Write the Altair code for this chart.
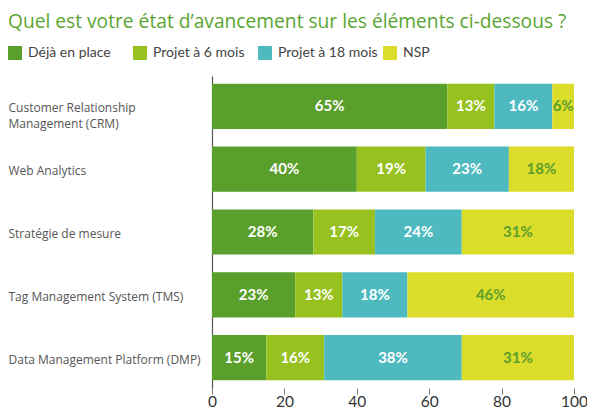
import altair as alt
import pandas as pd

items = [
    "Customer Relationship|Management (CRM)",
    "Web Analytics",
    "Stratégie de mesure",
    "Tag Management System (TMS)",
    "Data Management Platform (DMP)",
]
series = ["Déjà en place", "Projet à 6 mois", "Projet à 18 mois", "NSP"]
deja = [65, 40, 28, 23, 15]
six = [13, 19, 17, 13, 16]
dixhuit = [16, 23, 24, 18, 38]
nsp = [6, 18, 31, 46, 31]
colors = ["#5A9F2B", "#96C11F", "#4EBAC0", "#DCDC2B"]
x_ticks = [0, 20, 40, 60, 80, 100]

rows = []
for vals, s_i in zip([deja, six, dixhuit, nsp], range(4)):
    for it, v in zip(items, vals):
        rows.append({"item": it, "serie": series[s_i], "order": s_i, "value": v})
df = pd.DataFrame(rows)

font = "Lato"
LEFT = 204

base = alt.Chart(df).transform_stack(
    stack="value", groupby=["item"], as_=["x0", "x1"],
    sort=[alt.SortField("order", order="ascending")]
).transform_calculate(mid="(datum.x0 + datum.x1) / 2")

y_enc = alt.Y("item:N", sort=items, title=None,
              scale=alt.Scale(paddingInner=0.28, paddingOuter=0.125),
              axis=alt.Axis(labelExpr="split(datum.label, '|')", labelAlign="left",
                            labelPadding=LEFT, ticks=False, tickSize=0, labelLimit=300,
                            labelFont="Open Sans", labelFontSize=12, labelColor="#555555",
                            labelLineHeight=16, labelOffset=2,
                            domain=True, domainColor="#555555", domainWidth=1.2))

bars = base.mark_bar().encode(
    y=y_enc,
    x=alt.X("x0:Q", title=None, scale=alt.Scale(domain=[0, 100], nice=False),
            axis=alt.Axis(values=x_ticks, domain=False, grid=False, tickSize=6,
                          tickColor="#777777", labelFont=font, labelFontSize=15.5,
                          labelColor="#333333", labelPadding=0, labelFlush=False)),
    x2="x1:Q",
    color=alt.Color("serie:N", sort=series,
                    scale=alt.Scale(domain=series, range=colors),
                    legend=alt.Legend(title=None, orient="none", direction="horizontal",
                                      legendX=-LEFT, legendY=-30, symbolType="square",
                                      symbolSize=196, symbolStrokeWidth=0,
                                      labelFont=font, labelFontSize=14, labelColor="#444444",
                                      gridAlign="all", columnPadding=5, labelOffset=6,
                                      symbolOpacity=1)),
)

labels = base.mark_text(font=font, fontSize=15, fontWeight="bold").encode(
    y=alt.Y("item:N", sort=items),
    x=alt.X("mid:Q"),
    text=alt.Text("label:N"),
    color=alt.condition(alt.datum.serie == "NSP", alt.value("#5A9F2B"), alt.value("white")),
).transform_calculate(label="datum.value + '%'")

chart = alt.layer(bars, labels).properties(
    width=362, height=312,
    autosize=alt.AutoSizeParams(type="none"),
    padding={"left": LEFT, "top": 68, "right": 13, "bottom": 23},
    title=alt.TitleParams("Quel est votre état d’avancement sur les éléments ci-dessous ?",
                          anchor="start", frame="group", dx=-LEFT, font="Open Sans",
                          fontSize=19.2, fontWeight="normal", color="#5AA532", offset=14),
).configure_view(stroke=None)

chart.save("out.html", embed_options={"renderer": "svg", "actions": False})
